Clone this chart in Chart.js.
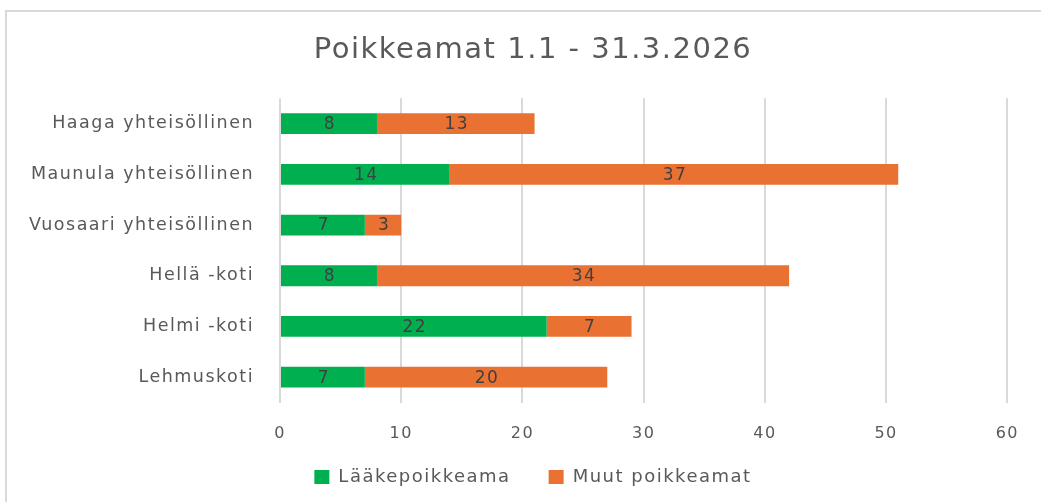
<!DOCTYPE html>
<html lang="fi">
<head>
  <meta charset="UTF-8" />
  <title>Poikkeamat 1.1 - 31.3.2026</title>
  <script src="https://cdn.jsdelivr.net/npm/chart.js"></script>
  <style>
    html, body { margin: 0; padding: 0; background: #fff; overflow: hidden; }
    #wrap { width: 1041px; height: 502px; position: relative; }
  </style>
</head>
<body>
  <div id="wrap"><canvas id="chart" width="1041" height="502"></canvas></div>
  <script>
    const units = ["Haaga yhteisöllinen", "Maunula yhteisöllinen", "Vuosaari yhteisöllinen", "Hellä -koti", "Helmi -koti", "Lehmuskoti"];
    const laakepoikkeama = [8, 14, 7, 8, 22, 7];
    const muutPoikkeamat = [13, 37, 3, 34, 7, 20];
    const xMin = 0, xMax = 60, xStep = 10;

    const textGrey = "#595959";
    const font = "'DejaVu Sans', 'Open Sans', sans-serif";
    const spacing = "1.5px";

    // the original text is drawn a bit wide, so widen the letters a little
    const wideText = {
      id: "wideText",
      beforeUpdate(chart) { chart.ctx.letterSpacing = spacing; },
      beforeDraw(chart) { chart.ctx.letterSpacing = spacing; },
      // axis labels sit a bit outside their boxes, so widen the clip areas
      afterLayout(chart) {
        chart.scales.y.left = 0;
        chart.scales.x.bottom = chart.scales.x.top + 50;
      }
    };

    // frame around the whole chart, like the exported office chart
    const frame = {
      id: "frame",
      beforeDraw(chart) {
        const c = chart.ctx;
        c.save();
        c.strokeStyle = "#d9d9d9";
        c.lineWidth = 2;
        c.strokeRect(6, 11, 1100, 600);
        c.restore();
      }
    };

    // value labels in the middle of each bar segment
    const barLabels = {
      id: "barLabels",
      afterDatasetsDraw(chart) {
        const c = chart.ctx;
        c.save();
        c.font = "17px " + font;
        c.fillStyle = "#404040";
        c.textAlign = "center";
        c.textBaseline = "middle";
        chart.data.datasets.forEach((ds, i) => {
          chart.getDatasetMeta(i).data.forEach((bar, j) => {
            const mid = (bar.x + bar.base) / 2;
            c.fillText(ds.data[j], mid + 1, bar.y + 1);
          });
        });
        c.restore();
      }
    };

    new Chart(document.getElementById("chart"), {
      type: "bar",
      data: {
        labels: units,
        datasets: [
          { label: "Lääkepoikkeama", data: laakepoikkeama, backgroundColor: "#00b050" },
          { label: "Muut poikkeamat", data: muutPoikkeamat, backgroundColor: "#e97132" }
        ]
      },
      options: {
        indexAxis: "y",
        responsive: false,
        animation: false,
        layout: { padding: { left: 58, right: 33, top: 15, bottom: 6 } },
        datasets: { bar: { categoryPercentage: 1, barPercentage: 0.41 } },
        scales: {
          x: {
            stacked: true,
            min: xMin, max: xMax,
            ticks: { stepSize: xStep, color: textGrey, font: { size: 16, family: font }, padding: 22 },
            grid: { color: "#d9d9d9", lineWidth: 2, drawTicks: false },
            border: { display: false },
            afterFit(scale) { scale.height = 27.5; }
          },
          y: {
            stacked: true,
            ticks: { color: textGrey, font: { size: 17.5, family: font }, padding: 26 },
            grid: { display: false, drawTicks: false },
            border: { display: false },
            afterFit(scale) { scale.width = 222; }
          }
        },
        plugins: {
          title: {
            display: true,
            text: "Poikkeamat 1.1 - 31.3.2026",
            color: textGrey,
            font: { size: 29, weight: "normal", family: font },
            padding: { top: 18, bottom: 30.5 }
          },
          legend: {
            position: "bottom",
            labels: {
              color: textGrey,
              font: { size: 18, family: font },
              boxWidth: 15, boxHeight: 14,
              padding: 38
            }
          },
          tooltip: { enabled: false }
        }
      },
      plugins: [wideText, frame, barLabels]
    });
  </script>
</body>
</html>
